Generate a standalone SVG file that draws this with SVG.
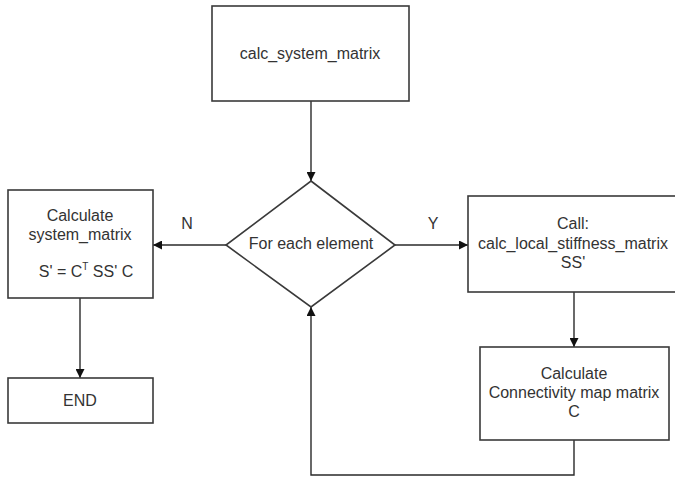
<svg xmlns="http://www.w3.org/2000/svg" width="675" height="477" viewBox="0 0 675 477">
<defs>
<style>
.box{fill:#fff;stroke:#3a3a3a;stroke-width:1.6}
.ln{fill:none;stroke:#2a2a2a;stroke-width:1.4}
text{font-family:"Liberation Sans",Arial,sans-serif;font-size:16px;fill:#333;text-anchor:middle}
</style>
<marker id="ah" viewBox="0 0 10 10" refX="10" refY="5" markerWidth="9" markerHeight="9" markerUnits="userSpaceOnUse" orient="auto">
<path d="M0,0 L10,5 L0,10 Z" fill="#111"/>
</marker>
</defs>
<rect width="675" height="477" fill="#fff"/>
<g id="connectors">
<path class="ln" d="M311,101 V181" marker-end="url(#ah)"/>
<path class="ln" d="M226,245 H153" marker-end="url(#ah)"/>
<path class="ln" d="M395,245 H468" marker-end="url(#ah)"/>
<path class="ln" d="M574,292 V347" marker-end="url(#ah)"/>
<path class="ln" d="M574,440 V475 H311 V307" marker-end="url(#ah)"/>
<path class="ln" d="M80,298 V378" marker-end="url(#ah)"/>
<text x="187" y="229">N</text>
<text x="433" y="229">Y</text>
</g>
<g id="start">
<rect class="box" x="212" y="6" width="197" height="95"/>
<text x="310" y="59">calc_system_matrix</text>
</g>
<g id="decision">
<polygon class="box" points="311,181 395,245 311,307 226,245"/>
<text x="311" y="249">For each element</text>
</g>
<g id="calc_system">
<rect class="box" x="8" y="190" width="145" height="108"/>
<text x="80" y="221">Calculate</text>
<text x="80" y="240">system_matrix</text>
<text x="86" y="277">S' = C<tspan font-size="10" dy="-7">T</tspan><tspan dy="7"> SS' C</tspan></text>
</g>
<g id="call_local">
<rect class="box" x="468" y="196" width="212" height="96"/>
<text x="573" y="229">Call:</text>
<text x="573" y="249">calc_local_stiffness_matrix</text>
<text x="573" y="268">SS'</text>
</g>
<g id="connectivity">
<rect class="box" x="480" y="347" width="189" height="93"/>
<text x="574" y="379">Calculate</text>
<text x="574" y="398">Connectivity map matrix</text>
<text x="574" y="417">C</text>
</g>
<g id="end">
<rect class="box" x="8" y="378" width="145" height="45"/>
<text x="80" y="406">END</text>
</g>
</svg>
